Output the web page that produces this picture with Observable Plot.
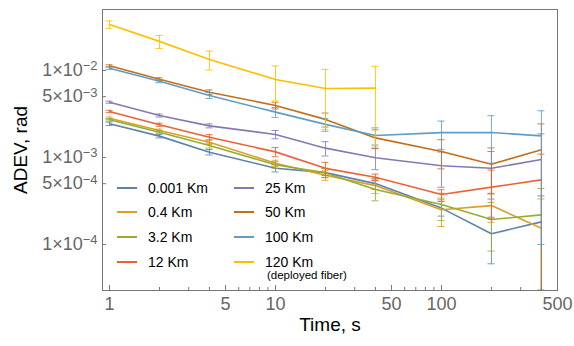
<!DOCTYPE html>
<html><head><meta charset="utf-8">
<script src="https://cdn.jsdelivr.net/npm/d3@7"></script>
<script src="https://cdn.jsdelivr.net/npm/@observablehq/plot@0.6"></script>
<style>
body{margin:0;background:#fff;}
svg{font-family:"Liberation Sans",Arial,sans-serif;}
</style>
</head><body><div id="chart"></div>
<script>
// ---- data ----
const times = [1, 2, 4, 10, 20, 40, 100, 200, 400];
const times120 = [1, 2, 4, 10, 20, 40];
const seriesNames = ["0.001 Km", "0.4 Km", "3.2 Km", "12 Km", "25 Km", "50 Km", "100 Km", "120 Km"];
const seriesColors = ["#5E81B5", "#E19C24", "#8FB032", "#EB6235", "#8778B3", "#C56E1A", "#5D9EC7", "#FFBF00"];

const adev0001 = [0.00244, 0.00176, 0.00115, 0.000753, 0.00067, 0.000501, 0.000262, 0.000133, 0.000182];
const err0001  = [0.00011, 0.00008, 0.00008, 0.00007, 0.00008, 0.00007, 0.00005, 0.000073, 0.00018];
const adev04   = [0.00283, 0.00204, 0.0015, 0.00086, 0.000626, 0.000475, 0.000251, 0.00028, 0.000154];
const err04    = [0.00009, 0.00008, 0.00009, 0.00007, 0.00008, 0.00009, 0.00009, 0.0001, 0.00018];
const adev32   = [0.00271, 0.00195, 0.00137, 0.000824, 0.000665, 0.000428, 0.000288, 0.000194, 0.000219];
const err32    = [0.00009, 0.00008, 0.00009, 0.00007, 0.00008, 0.00011, 0.0001, 0.00011, 0.00022];
const adev12   = [0.00338, 0.00238, 0.00171, 0.00116, 0.00075, 0.000594, 0.000376, 0.000456, 0.000553];
const err12    = [0.0001, 0.0001, 0.00012, 0.00014, 0.00013, 0.00005, 0.00005, 0.00026, 0.00054];
const adev25   = [0.00432, 0.00304, 0.00231, 0.00184, 0.00128, 0.000994, 0.000805, 0.000753, 0.000947];
const err25    = [0.00012, 0.00012, 0.00012, 0.0002, 0.00024, 0.00027, 0.00035, 0.00042, 0.00092];
const adev50   = [0.01132, 0.00794, 0.00563, 0.00396, 0.00274, 0.00168, 0.00117, 0.000837, 0.00123];
const err50    = [0.0003, 0.0003, 0.00035, 0.00035, 0.0005, 0.0004, 0.00043, 0.00045, 0.0012];
const adev100  = [0.0106, 0.00753, 0.00516, 0.00332, 0.0024, 0.00179, 0.00193, 0.00194, 0.00177];
const err100   = [0.0003, 0.0003, 0.0004, 0.00043, 0.0004, 0.0004, 0.00069, 0.00108, 0.00167];
const adev120  = [0.0338, 0.0216, 0.0134, 0.00788, 0.00621, 0.00626];
const err120   = [0.0033, 0.0037, 0.0033, 0.0034, 0.0041, 0.0049];

const xTicksMajor = [1, 5, 10, 50, 100, 500];
const xTicksMinor = [2, 3, 4, 6, 7, 8, 9, 20, 30, 40, 60, 70, 80, 90, 200, 300, 400];
const yTicks = [1e-2, 5e-3, 1e-3, 5e-4, 1e-4];
const yTickLabels = ["1×10^−2", "5×10^−3", "1×10^−3", "5×10^−4", "1×10^−4"];

// ---- table built from arrays ----
const seriesTimes = [times, times, times, times, times, times, times, times120];
const seriesVals = [adev0001, adev04, adev32, adev12, adev25, adev50, adev100, adev120];
const seriesErrs = [err0001, err04, err32, err12, err25, err50, err100, err120];
const rows = [];
seriesNames.forEach((name, i) => {
  seriesTimes[i].forEach((t, j) => {
    rows.push({series: name, idx: i, t, v: seriesVals[i][j], e: seriesErrs[i][j]});
  });
});

const xDomain = [0.907, 500];
const yDomain = [2.96e-5, 0.0502];
const capF = 1.05;
const tickUp = (len) => yDomain[0] * Math.pow(10, len / 87);
const tickRight = (len) => xDomain[0] * Math.pow(10, len / 166);

const marks = [];
seriesNames.forEach((name, i) => {
  const d = rows.filter(r => r.idx === i);
  const c = seriesColors[i];
  marks.push(Plot.ruleX(d, {x: "t", y1: r => Math.max(r.v - r.e, 1e-9), y2: r => r.v + r.e, stroke: c, strokeWidth: 1, strokeOpacity: 0.85, clip: true}));
  marks.push(Plot.ruleY(d, {y: r => r.v + r.e, x1: r => r.t / capF, x2: r => r.t * capF, stroke: c, strokeWidth: 1, strokeOpacity: 0.85, clip: true}));
  marks.push(Plot.ruleY(d.filter(r => r.v - r.e > yDomain[0]), {y: r => r.v - r.e, x1: r => r.t / capF, x2: r => r.t * capF, stroke: c, strokeWidth: 1, strokeOpacity: 0.85, clip: true}));
  marks.push(Plot.line(d, {x: "t", y: "v", stroke: c, strokeWidth: 1.6, clip: true}));
});

const chart = Plot.plot({
  width: 574,
  height: 346,
  marginLeft: 102,
  marginRight: 17,
  marginTop: 9,
  marginBottom: 56,
  style: {fontFamily: "'Liberation Sans', Arial, sans-serif", background: "#fff"},
  x: {type: "log", domain: xDomain, label: null, axis: null},
  y: {type: "log", domain: yDomain, label: null, axis: null},
  marks: [
    ...marks,
    Plot.frame({stroke: "#777", strokeWidth: 1}),
    Plot.ruleX(xTicksMajor, {x: d => d, y1: yDomain[0], y2: tickUp(5), stroke: "#777"}),
    Plot.ruleX(xTicksMinor, {x: d => d, y1: yDomain[0], y2: tickUp(3), stroke: "#777"}),
    Plot.ruleY(yTicks, {y: d => d, x1: xDomain[0], x2: tickRight(4), stroke: "#777"}),
    Plot.text(xTicksMajor, {x: d => d, frameAnchor: "bottom", lineAnchor: "top", dy: 7, text: d => String(d), fontSize: 18, fill: "#666"}),
    Plot.text(yTicks, {y: d => d, frameAnchor: "left", textAnchor: "end", dx: -5, text: d => yTickLabels[yTicks.indexOf(d)], fontSize: 18, fill: "#666"}),
    Plot.text(["Time, s"], {frameAnchor: "bottom", dy: 40, fontSize: 19, fill: "#000", text: d => d}),
    Plot.text(["ADEV, rad"], {frameAnchor: "left", textAnchor: "middle", dx: -82, rotate: -90, fontSize: 19, fill: "#000", text: d => d})
  ]
});
document.getElementById("chart").appendChild(chart);

// superscripts for y tick labels
const svg = d3.select(chart);
svg.selectAll('text').each(function() {
  const s = this.textContent;
  const parts = s.split("^");
  if (parts.length === 2) {
    const el = d3.select(this);
    el.text(parts[0]);
    el.append("tspan").attr("dy", "-0.45em").attr("font-size", 13).text(parts[1]);
  }
});

// legend inside the plot
const leg = svg.append("g").attr("font-size", 14).attr("fill", "#000").attr("text-anchor", "start");
const legCols = [{lx: 117, tx: 148}, {lx: 234, tx: 265}];
const legRows = [188, 212, 237, 262];
seriesNames.forEach((name, i) => {
  const col = legCols[Math.floor(i / 4)];
  const y = legRows[i % 4];
  leg.append("line").attr("x1", col.lx).attr("x2", col.lx + 20).attr("y1", y).attr("y2", y)
    .attr("stroke", seriesColors[i]).attr("stroke-width", 2);
  leg.append("text").attr("x", col.tx).attr("y", y + 5).text(name);
});
leg.append("text").attr("x", 267).attr("y", 279).attr("font-size", 11.5).text("(deployed fiber)");
</script>
</body></html>
